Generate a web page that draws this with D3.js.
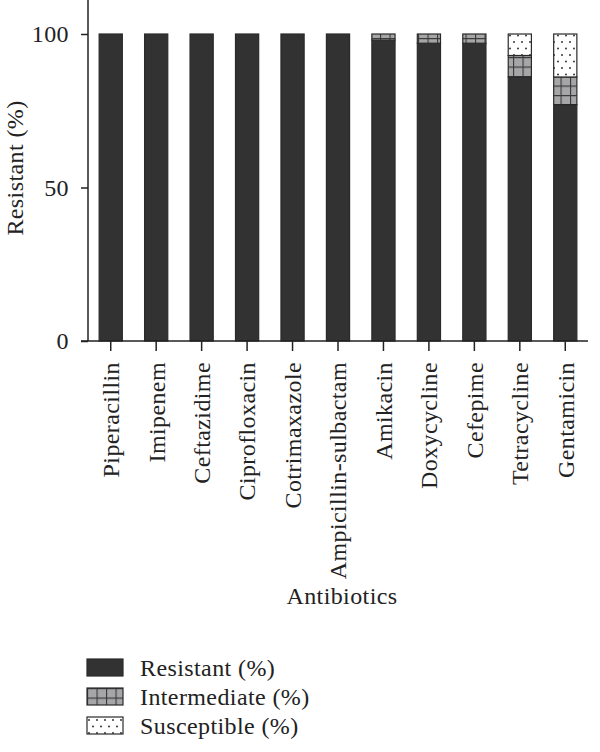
<!DOCTYPE html>
<html>
<head>
<meta charset="utf-8">
<script src="https://cdn.jsdelivr.net/npm/d3@7"></script>
<style>
    body { margin: 0; background: #fff; }
    text { font-family: "Liberation Serif", "DejaVu Serif", serif; fill: #222; }
</style>
</head>
<body>
<svg id="chart" width="600" height="752"></svg>
<script>
    // Chart data
    let antibiotics = ["Piperacillin", "Imipenem", "Ceftazidime", "Ciprofloxacin", "Cotrimaxazole",
        "Ampicillin-sulbactam", "Amikacin", "Doxycycline", "Cefepime", "Tetracycline", "Gentamicin"]
    let resistant = [100, 100, 100, 100, 100, 100, 98, 97, 97, 86, 77]
    let intermediate = [0, 0, 0, 0, 0, 0, 2, 3, 3, 7, 9]
    let susceptible = [0, 0, 0, 0, 0, 0, 0, 0, 0, 7, 14]
    let yTicks = [0, 50, 100]
    let seriesNames = ["Resistant (%)", "Intermediate (%)", "Susceptible (%)"]

    let fontSize = "24px"
    let spacing = "0.4px"

    let svg = d3.select("#chart")

    // patterns
    let defs = svg.append("defs")
    let grid = defs.append("pattern")
        .attr("id", "grid")
        .attr("patternUnits", "userSpaceOnUse")
        .attr("width", 9.5).attr("height", 9.5)
    grid.append("rect").attr("width", 9.5).attr("height", 9.5).attr("fill", "#a6a6a8")
    grid.append("path").attr("d", "M0,0H9.5M0,0V9.5")
        .attr("stroke", "#3a3a3a").attr("stroke-width", 2.2)

    let dots = defs.append("pattern")
        .attr("id", "dots")
        .attr("patternUnits", "userSpaceOnUse")
        .attr("width", 8).attr("height", 13)
    dots.append("rect").attr("width", 8).attr("height", 13).attr("fill", "#fff")
    dots.append("circle").attr("cx", 2).attr("cy", 3).attr("r", 0.9).attr("fill", "#222")
    dots.append("circle").attr("cx", 6).attr("cy", 9.5).attr("r", 0.9).attr("fill", "#222")

    let fills = ["#323232", "url(#grid)", "url(#dots)"]

    let plotLeft = 88, plotRight = 588, plotTop = 34, plotBottom = 341

    let xScale = d3.scaleBand()
        .domain(antibiotics)
        .range([plotLeft, plotRight])
        .paddingInner(0.49)
        .paddingOuter(0.245)
    let yScale = d3.scaleLinear()
        .domain([0, 100])
        .range([plotBottom, plotTop])

    let rows = antibiotics.map((name, i) => ({
        name: name,
        "Resistant (%)": resistant[i],
        "Intermediate (%)": intermediate[i],
        "Susceptible (%)": susceptible[i]
    }))
    let stacked = d3.stack().keys(seriesNames)(rows)

    // bars
    stacked.forEach((layer, k) => {
        svg.append("g")
            .selectAll("rect")
            .data(layer.filter(d => d[1] - d[0] > 0))
            .enter()
            .append("rect")
            .attr("x", d => xScale(d.data.name))
            .attr("y", d => yScale(d[1]))
            .attr("width", xScale.bandwidth())
            .attr("height", d => yScale(d[0]) - yScale(d[1]))
            .attr("fill", fills[k])
            .attr("stroke", "#2a2a2a")
            .attr("stroke-width", 1.2)
    })

    // y axis
    let yAxis = svg.append("g")
        .attr("transform", "translate(" + plotLeft + ",0)")
        .call(d3.axisLeft(yScale).tickValues(yTicks).tickSize(7).tickPadding(12))
    yAxis.select(".domain").attr("d", "M0,0V" + plotBottom).attr("stroke", "#222").attr("stroke-width", 1.5)
    yAxis.selectAll(".tick line").attr("stroke", "#222").attr("stroke-width", 1.5)
    yAxis.selectAll(".tick text")
        .style("font-size", fontSize).style("letter-spacing", spacing).attr("fill", "#222")
        .style("font-family", "Liberation Serif, serif")

    // x axis
    let xAxis = svg.append("g")
        .attr("transform", "translate(0," + plotBottom + ")")
        .call(d3.axisBottom(xScale).tickSize(10).tickSizeOuter(0))
    xAxis.select(".domain").attr("d", "M" + (plotLeft - 7) + ",0H" + plotRight).attr("stroke", "#222").attr("stroke-width", 1.5)
    xAxis.selectAll(".tick line").attr("stroke", "#222").attr("stroke-width", 1.5)
    xAxis.selectAll(".tick text")
        .style("font-size", fontSize).style("letter-spacing", spacing).attr("fill", "#222")
        .style("font-family", "Liberation Serif, serif")
        .attr("text-anchor", "end")
        .attr("transform", "rotate(-90)")
        .attr("x", -21).attr("y", 0).attr("dy", "0.35em")

    // axis titles
    svg.append("text")
        .attr("transform", "translate(23,168) rotate(-90)")
        .attr("text-anchor", "middle")
        .style("font-size", fontSize).style("letter-spacing", spacing)
        .text("Resistant (%)")
    svg.append("text")
        .attr("x", 342).attr("y", 604)
        .attr("text-anchor", "middle")
        .style("font-size", fontSize).style("letter-spacing", spacing)
        .text("Antibiotics")

    // legend
    let legend = svg.append("g").attr("transform", "translate(87,659)")
    seriesNames.forEach((name, i) => {
        let row = legend.append("g").attr("transform", "translate(0," + (i * 29) + ")")
        row.append("rect")
            .attr("width", 36).attr("height", 17)
            .attr("fill", fills[i])
            .attr("stroke", "#2a2a2a").attr("stroke-width", 1.2)
        row.append("text")
            .attr("x", 53).attr("y", 8.5).attr("dy", "0.35em")
            .style("font-size", fontSize).style("letter-spacing", spacing)
            .text(name)
    })
</script>
</body>
</html>
